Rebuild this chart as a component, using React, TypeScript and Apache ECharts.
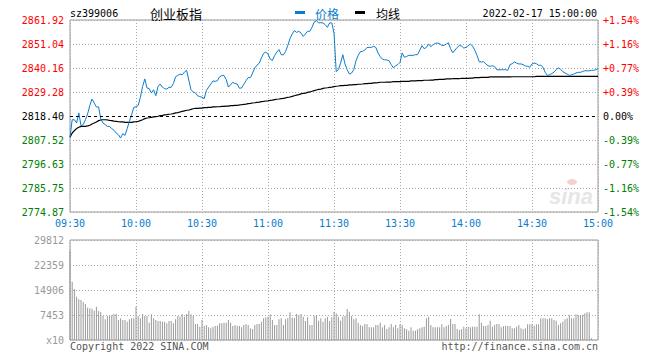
import React, { useEffect, useRef } from "react";
import * as echarts from "echarts";

const prevClose = 2818.4;
const priceStep = 10.88125;

const leftTickLabels = ["2774.87", "2785.75", "2796.63", "2807.52", "2818.40", "2829.28", "2840.16", "2851.04", "2861.92"];
const rightTickLabels = ["-1.54%", "-1.16%", "-0.77%", "-0.39%", "0.00%", "+0.39%", "+0.77%", "+1.16%", "+1.54%"];
const timeTickLabels = ["09:30", "10:00", "10:30", "11:00", "11:30", "13:30", "14:00", "14:30", "15:00"];
const volumeTickLabels = ["x10", "7453", "14906", "22359", "29812"];

// minute price (09:30 .. 15:00, 241 points)
const priceValues = [
  2808.8, 2816.7, 2816.7, 2815.2, 2819.8, 2814.0, 2814.5, 2816.7, 2819.3, 2823.2,
  2826.1, 2824.3, 2822.5, 2822.5, 2817.0, 2815.2, 2814.5, 2813.7, 2813.6, 2812.7,
  2811.9, 2810.7, 2809.9, 2808.4, 2810.4, 2809.6, 2812.7, 2816.0, 2819.0, 2822.3,
  2822.6, 2823.2, 2826.9, 2831.8, 2835.2, 2831.1, 2830.8, 2828.8, 2830.3, 2827.6,
  2831.8, 2832.9, 2831.5, 2830.8, 2830.6, 2831.4, 2831.4, 2833.1, 2836.2, 2836.8,
  2837.4, 2837.1, 2838.3, 2839.1, 2834.7, 2830.3, 2829.3, 2828.8, 2827.6, 2827.2,
  2826.9, 2826.3, 2830.0, 2831.5, 2832.9, 2834.3, 2834.1, 2834.4, 2836.2, 2836.7,
  2836.8, 2834.9, 2831.5, 2832.6, 2833.7, 2833.1, 2832.9, 2831.0, 2831.1, 2832.8,
  2834.4, 2835.8, 2835.8, 2837.9, 2840.2, 2841.5, 2842.3, 2844.7, 2846.8, 2847.4,
  2846.5, 2844.2, 2843.6, 2845.8, 2847.4, 2848.5, 2846.2, 2846.1, 2847.7, 2850.4,
  2853.5, 2855.6, 2857.1, 2856.3, 2856.8, 2856.0, 2854.5, 2855.6, 2856.8, 2856.8,
  2858.6, 2861.0, 2861.6, 2860.6, 2860.7, 2860.6, 2859.8, 2858.6, 2860.6, 2860.6,
  2856.0, 2838.6, 2839.4, 2842.4, 2846.2, 2842.0, 2839.4, 2837.4, 2837.9, 2839.4,
  2843.5, 2845.9, 2847.6, 2847.7, 2848.3, 2849.5, 2849.5, 2849.5, 2850.0, 2849.5,
  2847.0, 2845.3, 2844.2, 2843.9, 2843.8, 2843.5, 2841.7, 2840.2, 2841.2, 2841.7,
  2842.7, 2847.0, 2845.0, 2845.4, 2845.9, 2845.9, 2845.9, 2846.2, 2846.2, 2848.3,
  2850.3, 2848.9, 2849.5, 2851.0, 2849.8, 2850.7, 2851.3, 2851.5, 2851.2, 2850.4,
  2850.4, 2851.0, 2851.6, 2848.9, 2847.1, 2848.3, 2849.5, 2850.4, 2850.1, 2849.2,
  2849.5, 2850.3, 2851.0, 2850.1, 2848.2, 2845.9, 2843.0, 2842.9, 2843.0, 2842.0,
  2841.2, 2840.9, 2841.2, 2840.8, 2839.4, 2839.3, 2839.4, 2839.4, 2839.4, 2839.1,
  2841.7, 2842.1, 2842.9, 2842.4, 2842.0, 2842.0, 2841.7, 2841.1, 2840.9, 2840.5,
  2842.0, 2842.4, 2842.1, 2841.4, 2841.4, 2840.5, 2838.2, 2836.8, 2837.1, 2837.6,
  2838.3, 2839.4, 2840.2, 2839.6, 2838.5, 2837.9, 2837.4, 2836.8, 2837.1, 2837.4,
  2837.9, 2838.2, 2838.2, 2838.6, 2838.9, 2838.9, 2838.9, 2839.1, 2839.1, 2839.4,
  2839.9,
];

// average price line
const avgValues = [
  2808.8, 2810.7, 2811.8, 2812.7, 2813.3, 2813.7, 2813.7, 2813.7, 2813.9, 2814.2,
  2814.8, 2815.2, 2815.7, 2816.3, 2816.6, 2816.7, 2816.7, 2816.6, 2816.4, 2816.3,
  2816.1, 2816.0, 2815.8, 2815.7, 2815.7, 2815.5, 2815.5, 2815.5, 2815.5, 2815.7,
  2815.8, 2816.0, 2816.3, 2816.7, 2817.2, 2817.5, 2817.6, 2817.8, 2818.0, 2818.1,
  2818.3, 2818.6, 2818.7, 2818.9, 2819.0, 2819.2, 2819.3, 2819.5, 2819.8, 2819.9,
  2820.2, 2820.5, 2820.7, 2821.0, 2821.1, 2821.4, 2821.7, 2821.9, 2821.9, 2822.0,
  2822.0, 2822.2, 2822.2, 2822.3, 2822.3, 2822.5, 2822.5, 2822.6, 2822.6, 2822.8,
  2822.8, 2822.9, 2822.9, 2823.1, 2823.1, 2823.2, 2823.2, 2823.4, 2823.5, 2823.7,
  2823.8, 2824.0, 2824.1, 2824.3, 2824.4, 2824.6, 2824.7, 2824.9, 2825.0, 2825.2,
  2825.3, 2825.5, 2825.6, 2825.8, 2826.0, 2826.1, 2826.3, 2826.4, 2826.6, 2826.9,
  2827.0, 2827.3, 2827.6, 2827.9, 2828.1, 2828.4, 2828.7, 2828.8, 2829.1, 2829.3,
  2829.6, 2829.9, 2830.2, 2830.5, 2830.6, 2830.9, 2831.1, 2831.2, 2831.4, 2831.5,
  2831.7, 2831.9, 2832.0, 2832.2, 2832.2, 2832.3, 2832.3, 2832.5, 2832.5, 2832.6,
  2832.6, 2832.8, 2832.8, 2832.9, 2833.1, 2833.1, 2833.2, 2833.2, 2833.4, 2833.4,
  2833.5, 2833.7, 2833.7, 2833.7, 2833.8, 2833.8, 2833.8, 2834.0, 2834.0, 2834.0,
  2834.0, 2834.1, 2834.1, 2834.1, 2834.1, 2834.3, 2834.3, 2834.3, 2834.4, 2834.4,
  2834.4, 2834.6, 2834.6, 2834.6, 2834.7, 2834.7, 2834.9, 2834.9, 2835.0, 2835.0,
  2835.0, 2835.2, 2835.2, 2835.2, 2835.3, 2835.3, 2835.3, 2835.3, 2835.5, 2835.5,
  2835.5, 2835.5, 2835.6, 2835.6, 2835.8, 2835.8, 2835.8, 2835.9, 2835.9, 2835.9,
  2835.9, 2836.1, 2836.1, 2836.1, 2836.1, 2836.1, 2836.1, 2836.1, 2836.1, 2836.1,
  2836.1, 2836.2, 2836.2, 2836.2, 2836.2, 2836.2, 2836.2, 2836.2, 2836.2, 2836.2,
  2836.2, 2836.2, 2836.4, 2836.4, 2836.4, 2836.4, 2836.4, 2836.4, 2836.4, 2836.4,
  2836.4, 2836.4, 2836.4, 2836.4, 2836.4, 2836.4, 2836.4, 2836.4, 2836.4, 2836.4,
  2836.4, 2836.4, 2836.4, 2836.4, 2836.4, 2836.4, 2836.4, 2836.4, 2836.4, 2836.4,
  2836.4,
];

// minute volume (shown in units of x10)
const volumeValues = [
  26630, 17390, 15200, 12920, 12120, 11920, 11330, 10730, 9640, 9440,
  9340, 8740, 9940, 8650, 8350, 7150, 6160, 7150, 7150, 7450,
  7750, 7750, 5960, 6460, 5960, 5960, 5470, 6160, 6460, 6460,
  9940, 7150, 6460, 7750, 7150, 7150, 5170, 7650, 6460, 5960,
  5660, 5660, 5470, 5470, 4970, 5660, 5660, 4970, 6160, 7150,
  6960, 7750, 6960, 7750, 8650, 7650, 7150, 4770, 4770, 3970,
  5960, 4170, 4470, 3780, 3480, 3970, 4170, 4270, 4970, 4970,
  5170, 5170, 5960, 5170, 4170, 4470, 4170, 4170, 3780, 4470,
  4770, 4470, 3480, 3280, 4470, 4770, 4770, 5470, 6460, 6760,
  6960, 7650, 5960, 4470, 4470, 6160, 6460, 4470, 6160, 6460,
  8250, 6660, 6660, 7750, 7450, 7750, 6960, 5660, 6760, 4470,
  4470, 7150, 7350, 5760, 6460, 5470, 6460, 6960, 5660, 6760,
  8450, 7950, 6960, 5760, 6960, 7150, 9240, 8450, 7150, 6160,
  6460, 5170, 4470, 4170, 4770, 4770, 3780, 3780, 3780, 4470,
  4470, 5170, 3780, 4470, 3280, 3780, 4770, 3780, 4470, 3480,
  4670, 4470, 3480, 3180, 2780, 3780, 2780, 2780, 3180, 3480,
  3780, 3970, 6460, 6960, 4470, 3780, 3780, 3780, 3780, 4670,
  3780, 4170, 4470, 6260, 4770, 4770, 3280, 2980, 3180, 3970,
  3480, 3970, 3780, 3970, 3970, 3970, 7650, 5170, 4170, 4170,
  4470, 5760, 3970, 4470, 4770, 4770, 3780, 4170, 4170, 4170,
  4170, 3480, 3480, 3970, 4470, 3480, 3180, 3480, 4670, 4670,
  4670, 4270, 4670, 4670, 6460, 6460, 6460, 6160, 6460, 6460,
  5960, 5760, 4470, 4970, 5470, 6160, 6460, 7350, 6460, 6460,
  7650, 7450, 7450, 7450, 7950, 8250, 8250, 500, 0, 0,
  0,
];

const MONO = '"DejaVu Sans Mono", monospace';
const CJK = '"Noto Sans CJK SC", sans-serif';
const BLUE = "#0a7ccc";
const RED = "#ff0000";
const GREEN = "#008000";
const GRID_GRAY = "#aaaaaa";

export default function App() {
  const ref = useRef<HTMLDivElement>(null);

  useEffect(() => {
    if (!ref.current) return;
    const chart = echarts.init(ref.current, null, { renderer: "svg" });
    const idxOf = (v: number) => Math.round(Number(v) / priceStep) + 4;
    const dotted = { color: GRID_GRAY, type: [1, 2] as any, width: 1 };

    const option: any = {
      animation: false,
      backgroundColor: "#ffffff",
      grid: [
        { left: 70, top: 20, width: 528, height: 192, show: true, borderColor: "#999999", borderWidth: 1, backgroundColor: "transparent" },
        { left: 70, top: 240, width: 528, height: 100, show: true, borderColor: "#999999", borderWidth: 1, backgroundColor: "transparent" },
      ],
      xAxis: [
        {
          type: "value", gridIndex: 0, min: 0, max: 240, interval: 30,
          axisLine: { show: false }, axisTick: { show: false },
          axisLabel: {
            color: BLUE, fontFamily: MONO, fontSize: 10, margin: 6,
            showMinLabel: true, showMaxLabel: true,
            formatter: (v: number) => timeTickLabels[Math.round(v / 30)] ?? "",
          },
          splitLine: { show: true, lineStyle: dotted },
        },
        {
          type: "value", gridIndex: 1, min: 0, max: 240, interval: 30,
          axisLine: { show: false }, axisTick: { show: false },
          axisLabel: { show: false },
          splitLine: { show: true, lineStyle: dotted },
        },
      ],
      yAxis: [
        {
          type: "value", gridIndex: 0, position: "left",
          min: -4 * priceStep, max: 4 * priceStep, interval: priceStep,
          axisLine: { show: false }, axisTick: { show: false },
          axisLabel: {
            fontFamily: MONO, fontSize: 10, margin: 6,
            showMinLabel: true, showMaxLabel: true,
            formatter: (v: number) => leftTickLabels[idxOf(v)] ?? "",
            color: (v: any) => { const i = idxOf(v); return i > 4 ? RED : i < 4 ? GREEN : "#000000"; },
          },
          splitLine: {
            show: true,
            lineStyle: { ...dotted, color: [GRID_GRAY, GRID_GRAY, GRID_GRAY, GRID_GRAY, "rgba(0,0,0,0)", GRID_GRAY, GRID_GRAY, GRID_GRAY, GRID_GRAY] },
          },
        },
        {
          type: "value", gridIndex: 0, position: "right",
          min: -4 * priceStep, max: 4 * priceStep, interval: priceStep,
          axisLine: { show: false }, axisTick: { show: false },
          axisLabel: {
            fontFamily: MONO, fontSize: 10, margin: 5,
            showMinLabel: true, showMaxLabel: true,
            formatter: (v: number) => rightTickLabels[idxOf(v)] ?? "",
            color: (v: any) => { const i = idxOf(v); return i > 4 ? RED : i < 4 ? GREEN : "#000000"; },
          },
          splitLine: { show: false },
        },
        {
          type: "value", gridIndex: 1, position: "left",
          min: 0, max: 29812, interval: 7453,
          axisLine: { show: false }, axisTick: { show: false },
          axisLabel: {
            fontFamily: MONO, fontSize: 10, margin: 6, color: "#999999",
            showMinLabel: true, showMaxLabel: true,
            formatter: (v: number) => volumeTickLabels[Math.round(v / 7453)] ?? "",
          },
          splitLine: { show: true, lineStyle: dotted },
        },
      ],
      graphic: [
        {
          type: "group", silent: true, z: 0,
          children: [
            { type: "text", x: 549, y: 196, style: { text: "sina", fill: "#e6e6e6", font: 'italic bold 22px "Liberation Sans", sans-serif', textVerticalAlign: "middle" } },
            { type: "ellipse", shape: { cx: 572, cy: 182, rx: 5, ry: 3 }, style: { fill: "rgba(230,120,120,0.35)" } },
          ],
        },
        { type: "text", x: 70, y: 13, style: { text: "sz399006", fill: "#000", font: `10px ${MONO}`, textVerticalAlign: "middle" } },
        { type: "text", x: 150, y: 13, style: { text: "创业板指", fill: "#000", font: `13px ${CJK}`, textVerticalAlign: "middle" } },
        { type: "rect", shape: { x: 295, y: 11, width: 10, height: 3 }, style: { fill: BLUE } },
        { type: "text", x: 315, y: 13, style: { text: "价格", fill: BLUE, font: `12px ${CJK}`, textVerticalAlign: "middle" } },
        { type: "rect", shape: { x: 355, y: 11, width: 10, height: 3 }, style: { fill: "#000" } },
        { type: "text", x: 376, y: 13, style: { text: "均线", fill: "#000", font: `12px ${CJK}`, textVerticalAlign: "middle" } },
        { type: "text", x: 597, y: 13, style: { text: "2022-02-17 15:00:00", fill: "#000", font: `10px ${MONO}`, textAlign: "right", textVerticalAlign: "middle" } },
        { type: "text", x: 70, y: 346, style: { text: "Copyright 2022 SINA.COM", fill: "#555", font: `10px ${MONO}`, textVerticalAlign: "middle" } },
        { type: "text", x: 598, y: 346, style: { text: "http://finance.sina.com.cn", fill: "#555", font: `10px ${MONO}`, textAlign: "right", textVerticalAlign: "middle" } },
      ],
      series: [
        {
          type: "bar", name: "成交量", xAxisIndex: 1, yAxisIndex: 2,
          data: volumeValues.map((v, i) => [i, v]),
          barWidth: 1, itemStyle: { color: "#999999" }, silent: true,
        },
        {
          type: "line", name: "均线", xAxisIndex: 0, yAxisIndex: 0,
          data: avgValues.map((v, i) => [i, v - prevClose]),
          showSymbol: false, symbol: "none",
          lineStyle: { color: "#000000", width: 1.2 }, silent: true, z: 3,
        },
        {
          type: "line", name: "价格", xAxisIndex: 0, yAxisIndex: 0,
          data: priceValues.map((v, i) => [i, v - prevClose]),
          showSymbol: false, symbol: "none",
          lineStyle: { color: BLUE, width: 1 }, silent: true, z: 4,
          markLine: {
            silent: true, symbol: "none", label: { show: false },
            lineStyle: { color: "#000000", type: [3, 3], width: 1 },
            data: [{ yAxis: 0 }],
          },
        },
      ],
    };
    chart.setOption(option);
    return () => chart.dispose();
  }, []);

  return <div ref={ref} style={{ width: 660, height: 360, marginLeft: -8, marginTop: -8 }} />;
}
